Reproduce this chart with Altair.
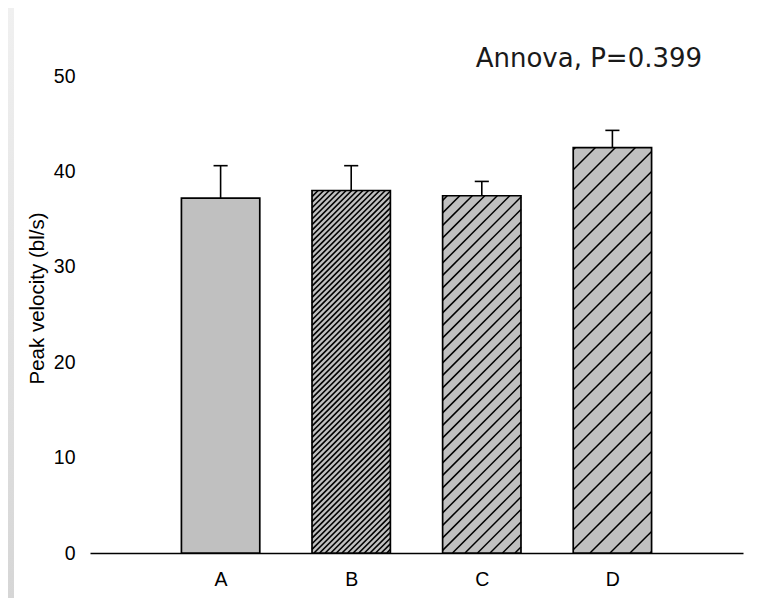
import math
import altair as alt
import pandas as pd

# ---- data ----
names = ["A", "B", "C", "D"]
values = [37.2, 38.0, 37.45, 42.5]
errors = [3.4, 2.6, 1.5, 1.8]
ticks_y = [0, 10, 20, 30, 40, 50]
note = "Annova, P=0.399"

# ---- style ----
hatch_spacing = [0, 5.6, 12.5, 20.0]   # horizontal pixel spacing of "/" hatch lines (0 = none)
hatch_width = [0, 1.6, 1.5, 1.5]
W, H = 653, 477
XMAX, YMAX = 5, 50
BAR_HALF = 0.3
CAP_HALF = 0.054

base = pd.DataFrame({"idx": list(range(1, len(names) + 1)), "name": names,
                     "value": values, "err": errors})

# hatch segments, built from the bar values and clipped to each bar
kx, ky = W / XMAX, H / YMAX
rows = []
for i, (n, v, s, lw) in enumerate(zip(names, values, hatch_spacing, hatch_width)):
    if s <= 0:
        continue
    xc = i + 1
    X0, X1, V = (xc - BAR_HALF) * kx, (xc + BAR_HALF) * kx, v * ky
    k = math.ceil((X0 - V) / s)
    while k * s < X1:
        c = k * s
        xs, xe = max(X0, c), min(X1, c + V)
        if xe > xs:
            rows.append({"name": n, "hx": xs / kx, "hy": (xs - c) / ky,
                         "hx2": xe / kx, "hy2": (xe - c) / ky, "w": lw})
        k += 1
hatch = pd.DataFrame(rows)

xscale = alt.Scale(domain=[0, XMAX], nice=False, zero=False)
yscale = alt.Scale(domain=[0, YMAX], nice=False)

label_expr = "[''," + ",".join("'%s'" % n for n in names) + "][datum.value]"
xaxis = alt.Axis(values=list(range(1, len(names) + 1)), labelExpr=label_expr, title=None,
                 grid=False, ticks=False, tickSize=0, labelPadding=17, labelFontSize=19.5,
                 labelFont="Liberation Sans", labelColor="black", domainColor="black",
                 domainWidth=1.5, labelAngle=0)
yaxis = alt.Axis(values=ticks_y, title="Peak velocity (bl/s)", grid=False, ticks=False,
                 tickSize=0, domain=False, labelPadding=15, labelFontSize=19.5,
                 labelFont="Liberation Sans", labelColor="black", titleFont="Liberation Sans",
                 titleFontSize=20.5, titleFontWeight="normal", titleColor="black",
                 titlePadding=6, titleY=222)

bars_base = alt.Chart(base).transform_calculate(
    x0=f"datum.idx - {BAR_HALF}", x1=f"datum.idx + {BAR_HALF}",
    c0=f"datum.idx - {CAP_HALF}", c1=f"datum.idx + {CAP_HALF}",
    top="datum.value + datum.err", zero="0")

fill = bars_base.mark_rect(fill="#c0c0c0").encode(
    x=alt.X("x0:Q", scale=xscale, axis=xaxis),
    x2="x1:Q",
    y=alt.Y("value:Q", scale=yscale, axis=yaxis),
    y2="zero:Q")

hatch_lines = alt.Chart(hatch).mark_rule(color="black").encode(
    x=alt.X("hx:Q", scale=xscale), x2="hx2:Q",
    y=alt.Y("hy:Q", scale=yscale), y2="hy2:Q",
    strokeWidth=alt.StrokeWidth("w:Q", scale=None))

outline = bars_base.mark_rect(filled=False, stroke="black", strokeWidth=1.7).encode(
    x=alt.X("x0:Q", scale=xscale), x2="x1:Q",
    y=alt.Y("value:Q", scale=yscale), y2="zero:Q")

err_line = bars_base.mark_rule(color="black", strokeWidth=1.6).encode(
    x=alt.X("idx:Q", scale=xscale),
    y=alt.Y("value:Q", scale=yscale), y2="top:Q")

err_cap = bars_base.mark_rule(color="black", strokeWidth=1.6).encode(
    x=alt.X("c0:Q", scale=xscale), x2="c1:Q",
    y=alt.Y("top:Q", scale=yscale))

annot = alt.Chart(pd.DataFrame({"t": [note], "x": [3.82], "y": [50.95]})).mark_text(
    font="DejaVu Sans", fontSize=26, color="#1a1a1a", align="center", baseline="alphabetic"
).encode(x=alt.X("x:Q", scale=xscale), y=alt.Y("y:Q", scale=yscale), text="t:N")

strip = alt.Chart(pd.DataFrame({"k": [0]})).mark_rect(
    fill=alt.Gradient(gradient="linear", x1=0, y1=0, x2=0, y2=1,
                      stops=[alt.GradientStop(color="#f0f0f0", offset=0),
                             alt.GradientStop(color="#d6d6d6", offset=1)])
).encode(x=alt.value(-82), x2=alt.value(-76), y=alt.value(-68), y2=alt.value(H + 45))

chart = alt.layer(strip, fill, hatch_lines, outline, err_line, err_cap, annot).properties(
    width=W, height=H,
    autosize=alt.AutoSizeParams(type="none"),
    padding={"left": 82, "top": 68, "right": 9, "bottom": 45},
).configure(background="white").configure_view(stroke=None, strokeWidth=0)

chart.save("out.html", embed_options={"renderer": "svg", "actions": False})
